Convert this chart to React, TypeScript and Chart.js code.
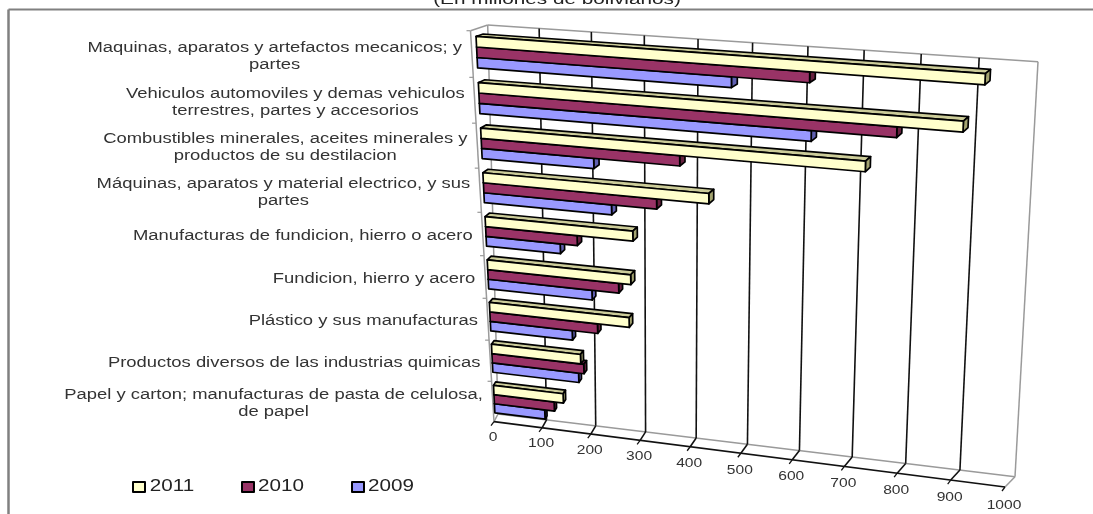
import React, { useEffect, useRef } from "react";
import { Chart, registerables } from "chart.js";

Chart.register(...registerables);

const categories: string[][] = [
  ["Maquinas, aparatos y artefactos mecanicos; y", "partes"],
  ["Vehiculos automoviles y demas vehiculos", "terrestres, partes y accesorios"],
  ["Combustibles minerales, aceites minerales y", "productos de su destilacion"],
  ["Máquinas, aparatos y material electrico, y sus", "partes"],
  ["Manufacturas de fundicion, hierro o acero"],
  ["Fundicion, hierro y acero"],
  ["Plástico y sus manufacturas"],
  ["Productos diversos de las industrias quimicas"],
  ["Papel y carton; manufacturas de pasta de celulosa,", "de papel"],
];
const values2011 = [926, 892, 723, 437, 291, 285, 280, 181, 143];
const values2010 = [621, 777, 383, 338, 182, 261, 217, 187, 124];
const values2009 = [480, 625, 219, 251, 148, 208, 166, 176, 104];
const titleText = "(En millones de bolivianos)";

type Pt = [number, number];
function homography(p0: Pt, p1: Pt, p2: Pt, p3: Pt) {
  const dx1 = p1[0] - p2[0], dx2 = p3[0] - p2[0], sx = p0[0] - p1[0] + p2[0] - p3[0];
  const dy1 = p1[1] - p2[1], dy2 = p3[1] - p2[1], sy = p0[1] - p1[1] + p2[1] - p3[1];
  const den = dx1 * dy2 - dx2 * dy1;
  const g = (sx * dy2 - dx2 * sy) / den, h = (dx1 * sy - sx * dy1) / den;
  const a = p1[0] - p0[0] + g * p1[0], b = p3[0] - p0[0] + h * p3[0], c = p0[0];
  const d = p1[1] - p0[1] + g * p1[1], e = p3[1] - p0[1] + h * p3[1], f = p0[1];
  return (u: number, v: number): Pt => {
    const q = g * u + h * v + 1;
    return [(a * u + b * v + c) / q, (d * u + e * v + f) / q];
  };
}
const backWall = homography([487.7, 25], [1038, 61.7], [1015, 476.7], [498, 414]);
const frontWall = homography([470.5, 30.7], [1026, 72], [1005, 487], [494, 421.7]);
const project = (u: number, v: number, w: number): Pt => {
  const f = frontWall(u, v), b = backWall(u, v);
  return [f[0] + (b[0] - f[0]) * w, f[1] + (b[1] - f[1]) * w];
};

const FRONT_DEPTH = 0.3;
const BACK_DEPTH = 0.72;
const FACE_COLORS = [
  { top: "#CCCC99", side: "#A3A370" },
  { top: "#6E2349", side: "#66213F" },
  { top: "#7777CC", side: "#5F5FB0" },
];

function poly(ctx: CanvasRenderingContext2D, pts: Pt[], fill?: string) {
  ctx.beginPath();
  pts.forEach((p, i) => (i ? ctx.lineTo(p[0], p[1]) : ctx.moveTo(p[0], p[1])));
  ctx.closePath();
  if (fill) {
    ctx.fillStyle = fill;
    ctx.fill();
  }
  ctx.stroke();
}
function seg(ctx: CanvasRenderingContext2D, a: Pt, b: Pt, color: string, width: number) {
  ctx.strokeStyle = color;
  ctx.lineWidth = width;
  ctx.beginPath();
  ctx.moveTo(a[0], a[1]);
  ctx.lineTo(b[0], b[1]);
  ctx.stroke();
}
function stretchedText(ctx: CanvasRenderingContext2D, text: string, x: number, y: number, font: string, sx: number, color: string) {
  ctx.save();
  ctx.font = font;
  ctx.fillStyle = color;
  ctx.textAlign = "center";
  ctx.textBaseline = "middle";
  ctx.translate(x, y);
  ctx.scale(sx, 1);
  ctx.fillText(text, 0, 0);
  ctx.restore();
}

const perspectivePlugin = {
  id: "perspective",
  beforeDatasetsDraw(chart: any) {
    const ctx: CanvasRenderingContext2D = chart.ctx;
    const area = chart.chartArea;
    const xs = chart.scales.x;
    const ys = chart.scales.y;
    const U = (px: number) => (px - area.left) / area.width;
    const V = (py: number) => (py - area.top) / area.height;
    const GREY = "#9A9A9A";
    const BLACK = "#111";

    ctx.save();
    ctx.lineJoin = "round";

    // outer frame and clipped title
    seg(ctx, [8.5, 514], [8.5, 9.5], "#808080", 2.5);
    seg(ctx, [8.5, 9.5], [1093, 9.5], "#808080", 2);
    stretchedText(ctx, titleText, 557, 0, "14px 'Liberation Sans'", 1.48, "#222");

    // walls
    seg(ctx, project(0, 0, 0), project(0, 1, 0), GREY, 1.5);
    seg(ctx, project(0, 0, 0), project(0, 0, 1), GREY, 1.5);
    seg(ctx, project(0, 0, 1), project(0, 1, 1), GREY, 1.5);
    seg(ctx, project(0, 0, 1), project(1, 0, 1), GREY, 1.5);
    seg(ctx, project(1, 0, 1), project(1, 1, 1), GREY, 1.5);
    seg(ctx, project(0, 1, 1), project(1, 1, 1), GREY, 1.5);
    seg(ctx, project(1, 1, 1), project(1, 1, 0), GREY, 1.5);
    seg(ctx, project(0, 1, 0), project(0, 1, 1), GREY, 1.5);

    // value grid, floor, ticks and labels
    xs.ticks.forEach((t: any) => {
      const u = U(xs.getPixelForValue(t.value));
      if (t.value > 0 && t.value < 1000) {
        seg(ctx, project(u, 0, 1), project(u, 1, 1), BLACK, 1.6);
        seg(ctx, project(u, 1, 1), project(u, 1, 0), BLACK, 1.6);
      }
      const p = project(u, 1, 0);
      seg(ctx, p, [p[0] - 3, p[1] + 4], BLACK, 1.3);
      stretchedText(ctx, String(t.value), p[0] - 1, p[1] + 15.5 + 2.5 * u, "13px 'Liberation Sans'", 1.2, "#333");
    });
    seg(ctx, project(0, 1, 0), project(1, 1, 0), BLACK, 1.7);

    // category ticks and labels
    const labels = ys.getLabels();
    labels.forEach((lines: string[], i: number) => {
      const halfStep = (ys.getPixelForValue(1) - ys.getPixelForValue(0)) / 2;
      const edge = project(0, V(ys.getPixelForValue(i) - halfStep), 0);
      seg(ctx, edge, [edge[0] - 4, edge[1]], GREY, 1.2);
      const mid = project(0, V(ys.getPixelForValue(i)), 0);
      ctx.font = "14px 'Liberation Sans'";
      const sx = 1.315;
      const widest = Math.max(...lines.map((l) => ctx.measureText(l).width)) * sx;
      const cx = mid[0] - 10 - widest / 2;
      lines.forEach((l, k) => {
        const y = mid[1] + 2 + (k - (lines.length - 1) / 2) * 17;
        stretchedText(ctx, l, cx, y, "14px 'Liberation Sans'", sx, "#333");
      });
    });

    // 3D bars, drawn from the lowest so upper fronts cover lower tops
    ctx.strokeStyle = "#000";
    ctx.lineWidth = 1.7;
    const n = chart.data.labels.length;
    for (let j = n - 1; j >= 0; j--) {
      for (let d = chart.data.datasets.length - 1; d >= 0; d--) {
        const bar: any = chart.getDatasetMeta(d).data[j];
        const u0 = U(bar.base), u1 = U(bar.x);
        const vt = V(bar.y - bar.height / 2), vb = V(bar.y + bar.height / 2);
        const F = FRONT_DEPTH, B = BACK_DEPTH;
        poly(ctx, [project(u0, vt, F), project(u1, vt, F), project(u1, vt, B), project(u0, vt, B)], FACE_COLORS[d].top);
        poly(ctx, [project(u1, vt, F), project(u1, vb, F), project(u1, vb, B), project(u1, vt, B)], FACE_COLORS[d].side);
        poly(ctx, [project(u0, vt, F), project(u1, vt, F), project(u1, vb, F), project(u0, vb, F)], chart.data.datasets[d].backgroundColor);
      }
    }

    // legend
    const legendX = [133, 242, 352];
    chart.data.datasets.forEach((ds: any, i: number) => {
      ctx.fillStyle = ds.backgroundColor;
      ctx.strokeStyle = "#000";
      ctx.lineWidth = 2;
      ctx.fillRect(legendX[i], 482, 12, 10);
      ctx.strokeRect(legendX[i], 482, 12, 10);
      stretchedText(ctx, ds.label, legendX[i] + 39, 487, "16px 'Liberation Sans'", 1.29, "#222");
    });
    ctx.restore();
    return false;
  },
};

export default function App() {
  const ref = useRef<HTMLCanvasElement>(null);
  useEffect(() => {
    const chart = new Chart(ref.current!, {
      type: "bar",
      data: {
        labels: categories as any,
        datasets: [
          { label: "2011", data: values2011, backgroundColor: "#FFFFCC" },
          { label: "2010", data: values2010, backgroundColor: "#993366" },
          { label: "2009", data: values2009, backgroundColor: "#9999FF" },
        ],
      },
      options: {
        indexAxis: "y",
        responsive: false,
        animation: false,
        layout: { padding: 0 },
        categoryPercentage: 0.68,
        barPercentage: 1,
        scales: {
          x: { display: false, min: 0, max: 1000, ticks: { stepSize: 100 } },
          y: { display: false },
        },
        plugins: { legend: { display: false }, tooltip: { enabled: false } },
      } as any,
      plugins: [perspectivePlugin],
    });
    return () => chart.destroy();
  }, []);
  return (
    <canvas
      ref={ref}
      width={1093}
      height={514}
      style={{ position: "fixed", left: 0, top: 0, width: 1093, height: 514, filter: "blur(0.35px)" }}
    />
  );
}
